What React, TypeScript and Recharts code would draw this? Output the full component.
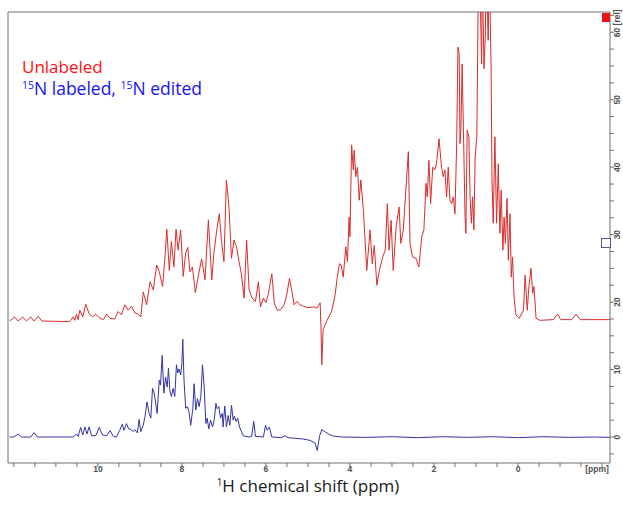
import React from 'react'
import { LineChart, Line, XAxis, YAxis, ReferenceLine } from 'recharts'

// 1H spectra, chemical shift (ppm) vs intensity (rel)
const redPpm = [
  12.1, 11.98, 11.9, 11.79, 11.7, 11.6, 11.52, 11.42, 11.34, 10.67, 10.59, 10.55, 10.51, 10.47, 10.43,
  10.36, 10.29, 10.21, 10.13, 10.05, 9.97, 9.87, 9.79, 9.71, 9.6, 9.52, 9.44, 9.36, 9.28, 9.2, 9.12,
  9.04, 8.98, 8.92, 8.84, 8.76, 8.68, 8.6, 8.54, 8.46, 8.4, 8.36, 8.3, 8.25, 8.19, 8.14, 8.09, 8.03,
  7.97, 7.91, 7.86, 7.81, 7.75, 7.68, 7.61, 7.53, 7.45, 7.37, 7.29, 7.24, 7.17, 7.11, 7.06, 7.0, 6.94,
  6.88, 6.82, 6.76, 6.7, 6.64, 6.58, 6.52, 6.46, 6.4, 6.33, 6.25, 6.18, 6.13, 6.06, 6.0, 5.94, 5.86,
  5.8, 5.73, 5.65, 5.57, 5.51, 5.44, 5.38, 5.33, 5.26, 5.19, 5.11, 5.03, 4.95, 4.87, 4.79, 4.71, 4.69,
  4.67, 4.64, 4.56, 4.44, 4.36, 4.3, 4.25, 4.21, 4.16, 4.1, 4.06, 4.02, 4.0, 3.96, 3.92, 3.9, 3.86,
  3.82, 3.78, 3.74, 3.68, 3.6, 3.52, 3.47, 3.42, 3.36, 3.3, 3.22, 3.16, 3.11, 3.07, 3.02, 2.97, 2.9,
  2.83, 2.79, 2.73, 2.67, 2.61, 2.57, 2.51, 2.43, 2.36, 2.29, 2.24, 2.19, 2.16, 2.12, 2.08, 2.03, 1.98,
  1.94, 1.88, 1.82, 1.78, 1.74, 1.7, 1.66, 1.62, 1.58, 1.54, 1.5, 1.46, 1.43, 1.4, 1.38, 1.36, 1.33,
  1.3, 1.26, 1.24, 1.21, 1.17, 1.14, 1.11, 1.08, 1.05, 1.02, 0.98, 0.94, 0.91, 0.865, 0.85, 0.81, 0.78,
  0.75, 0.71, 0.68, 0.64, 0.62, 0.59, 0.55, 0.51, 0.47, 0.43, 0.4, 0.36, 0.33, 0.3, 0.26, 0.23, 0.19,
  0.16, 0.13, 0.095, 0.05, -0.03, -0.13, -0.17, -0.22, -0.26, -0.31, -0.35, -0.38, -0.43, -0.52, -0.84,
  -0.94, -1.02, -1.28, -1.38, -1.48, -2.19,
]
const redInt = [
  17.2, 17.8, 17.2, 17.8, 17.2, 17.8, 17.2, 17.9, 17.2, 17.1, 17.8, 17.3, 18.2, 17.4, 18.8,
  17.8, 19.7, 18.3, 17.8, 18.2, 17.7, 17.4, 18.2, 17.6, 17.5, 18.6, 18.1, 19.6, 18.8, 19.4, 18.4,
  18.2, 17.8, 21.5, 19.6, 23.0, 21.8, 25.5, 24.5, 22.3, 27.0, 30.8, 24.7, 29.0, 25.2, 30.8, 27.7, 30.7,
  23.8, 27.3, 28.1, 24.5, 25.2, 21.4, 23.9, 26.4, 23.3, 32.2, 23.3, 27.2, 30.7, 33.1, 29.2, 26.0, 38.1,
  34.1, 26.5, 29.2, 28.2, 26.0, 24.0, 20.6, 29.2, 21.8, 20.6, 20.1, 23.0, 19.3, 20.6, 19.9, 21.3, 24.2,
  19.8, 18.8, 18.9, 19.6, 20.9, 23.5, 21.5, 19.6, 20.1, 19.6, 19.4, 19.2, 19.2, 19.3, 19.1, 19.9, 16.3,
  10.7, 15.9, 17.1, 18.6, 20.8, 23.7, 25.7, 25.5, 23.7, 28.2, 26.0, 32.6, 29.7, 43.3, 39.6, 42.5, 38.6,
  40.0, 35.1, 38.1, 33.6, 24.7, 30.7, 25.7, 28.4, 22.5, 24.7, 26.7, 27.7, 34.6, 27.7, 32.1, 24.7, 31.2,
  34.1, 28.7, 30.7, 36.6, 42.3, 28.7, 26.7, 26.5, 25.2, 29.7, 30.7, 37.6, 35.6, 41.0, 34.6, 40.0, 39.6,
  40.5, 44.2, 40.0, 38.6, 39.6, 35.6, 40.0, 35.1, 34.6, 35.6, 33.1, 43.5, 57.8, 56.8, 43.5, 45.5, 55.3,
  46.0, 32.6, 30.2, 45.5, 44.5, 35.6, 31.7, 35.6, 30.7, 41.5, 44.5, 70.0, 68.0, 55.3, 70.0, 54.6, 59.3,
  70.0, 58.8, 70.0, 54.4, 38.6, 31.7, 44.5, 31.7, 40.5, 30.2, 36.6, 27.7, 32.6, 28.7, 35.4, 26.2, 33.1,
  23.7, 26.7, 20.8, 18.1, 17.6, 18.8, 24.0, 18.8, 22.3, 25.0, 21.3, 22.3, 17.6, 17.3, 17.4,
  18.2, 17.4, 17.4, 18.2, 17.4, 17.4,
]

const bluePpm = [
  12.1, 12.0, 11.9, 11.82, 11.6, 11.52, 11.44, 10.59, 10.51, 10.47, 10.41, 10.36, 10.31, 10.26, 10.21,
  10.15, 10.05, 9.97, 9.89, 9.79, 9.71, 9.63, 9.56, 9.48, 9.42, 9.38, 9.32, 9.27, 9.23, 9.17, 9.12,
  9.06, 9.02, 8.98, 8.92, 8.88, 8.83, 8.78, 8.74, 8.7, 8.66, 8.63, 8.59, 8.54, 8.51, 8.47, 8.43, 8.39,
  8.35, 8.32, 8.29, 8.25, 8.21, 8.17, 8.13, 8.1, 8.07, 8.03, 8.0, 7.98, 7.95, 7.91, 7.87, 7.83, 7.79,
  7.74, 7.71, 7.67, 7.63, 7.59, 7.55, 7.51, 7.47, 7.43, 7.4, 7.36, 7.32, 7.27, 7.23, 7.19, 7.16, 7.12,
  7.08, 7.04, 7.02, 6.98, 6.94, 6.9, 6.86, 6.82, 6.78, 6.75, 6.71, 6.67, 6.63, 6.54, 6.42, 6.34, 6.29,
  6.25, 6.06, 6.01, 5.97, 5.92, 5.86, 5.63, 5.55, 5.47, 5.27, 5.11, 4.95, 4.83, 4.78, 4.76, 4.72, 4.67,
  4.6, 4.48, 4.4, 4.2, 3.6, 3.0, 2.4, 1.8, 1.2, 0.6, 0.0, -0.6, -1.2, -1.8, -2.19,
]
const blueInt = [
  0, 0, 0.44, 0, 0, 0.64, 0, 0, 0.44, 0.1, 1.43, 0.3, 1.5, 0.44, 1.5,
  0.2, 0.2, 1.43, 0.3, 0.2, 0.94, 0.1, 0, 1.0, 1.9, 1.0, 2.0, 1.2, 1.2, 0.8, 1.1,
  0.6, 2.6, 0.8, 1.75, 3.0, 5.2, 3.5, 2.8, 7.2, 6.5, 5.2, 3.5, 8.4, 7.7, 12.1, 6.5, 8.9,
  7.4, 10.2, 7.0, 6.0, 7.2, 6.0, 10.7, 9.5, 10.1, 9.2, 10.9, 14.5, 8.4, 4.25, 4.5, 3.7, 1.75,
  4.25, 7.9, 4.0, 5.7, 4.5, 6.0, 10.7, 7.4, 2.0, 2.8, 1.2, 2.5, 1.5, 2.6, 5.0, 4.2, 4.5,
  2.8, 3.5, 1.5, 4.6, 1.5, 3.2, 1.75, 4.7, 2.5, 3.1, 2.3, 2.8, 1.5, 0.2, 0, 0.1, 2.3,
  0.1, 0, 1.75, 1.0, 1.5, 0, -0.1, 0.2, -0.1, -0.2, -0.3, -0.5, -0.9, -2.0, -1.2, 0.2, 1.1,
  0.8, 0.35, 0.15, 0, -0.05, 0.05, -0.1, 0.05, -0.05, 0.05, -0.1, 0.05, -0.05, 0, -0.05,
]

const xTicks = [12, 11.5, 11, 10.5, 10, 9.5, 9, 8.5, 8, 7.5, 7, 6.5, 6, 5.5, 5, 4.5, 4, 3.5, 3, 2.5, 2, 1.5, 1, 0.5, 0, -0.5, -1, -1.5, -2]
const xLabels = [10, 8, 6, 4, 2, 0]
const yTicks = [-2.5, 0, 2.5, 5, 7.5, 10, 12.5, 15, 17.5, 20, 22.5, 25, 27.5, 30, 32.5, 35, 37.5, 40, 42.5, 45, 47.5, 50, 52.5, 55, 57.5, 60, 62.5]
const yLabels = [0, 10, 20, 30, 40, 50, 60]

const xDomain = [-2.19, 12.14]
const yDomain = [-3.85, 63]

const redData = redPpm.map((ppm, i) => ({ ppm, v: redInt[i] }))
const blueData = bluePpm.map((ppm, i) => ({ ppm, v: blueInt[i] }))

const axisColor = '#6e6e6e'
const tickFont = { fontFamily: 'Liberation Sans, Arial, sans-serif', fontSize: 8.5, fontWeight: 'bold' as const, fill: '#505050' }
const textFont = '"Open Sans", Lato, sans-serif'

function XTick({ x, y, payload }: any) {
  const v = payload.value
  let label = ''
  if (v === -2) label = '[ppm]'
  else if (xLabels.includes(v)) label = String(v)
  if (!label) return null
  const px = Number(x)
  return (
    <text x={v === -2 ? px - 5 : px} y={Number(y) - 3.5} dy="0.72em" textAnchor="middle" {...tickFont}>
      {label}
    </text>
  )
}

function YTick({ x, y, payload }: any) {
  const v = Number(payload.value)
  if (!yLabels.includes(v)) return null
  const isTop = v === 60
  const px = Number(x) + 4
  const py = Number(y) + (isTop ? 5 : 0)
  return (
    <text
      transform={`translate(${px},${py}) rotate(-90)`}
      textAnchor={isTop ? 'start' : 'middle'}
      {...tickFont}
    >
      {isTop ? '60 [rel]' : String(v)}
    </text>
  )
}

export default function App() {
  return (
    <div style={{ position: 'relative', width: 623, height: 506 }}>
      <style>{'body { margin: 0; }'}</style>
      <LineChart width={623} height={506} margin={{ top: 12, right: 0, bottom: 0, left: 8 }}>
        <XAxis
          xAxisId="b"
          dataKey="ppm"
          type="number"
          domain={xDomain}
          reversed
          ticks={xTicks}
          interval={0}
          height={43}
          tickSize={4}
          tickMargin={2}
          axisLine={{ stroke: axisColor }}
          tickLine={{ stroke: axisColor }}
          tick={<XTick />}
        />
        <YAxis
          yAxisId="r"
          orientation="right"
          type="number"
          domain={yDomain}
          allowDataOverflow
          ticks={yTicks}
          interval={0}
          width={13}
          tickSize={4}
          tickMargin={2}
          axisLine={{ stroke: axisColor }}
          tickLine={{ stroke: axisColor }}
          tick={<YTick />}
        />
        {/* frame: top and left edges */}
        <ReferenceLine xAxisId="b" yAxisId="r" y={yDomain[1]} stroke={axisColor} />
        <ReferenceLine xAxisId="b" yAxisId="r" x={xDomain[1]} stroke={axisColor} />
        <Line
          data={redData}
          xAxisId="b"
          yAxisId="r"
          dataKey="v"
          type="linear"
          stroke="#dc2b2b"
          strokeWidth={1}
          dot={false}
          isAnimationActive={false}
        />
        <Line
          data={blueData}
          xAxisId="b"
          yAxisId="r"
          dataKey="v"
          type="linear"
          stroke="#3434a2"
          strokeWidth={1}
          dot={false}
          isAnimationActive={false}
        />
      </LineChart>

      <div style={{ position: 'absolute', left: 602, top: 13, width: 8, height: 9, background: '#ee1111' }} />
      <div
        style={{
          position: 'absolute',
          left: 601,
          top: 238,
          width: 8,
          height: 8,
          border: '1px solid #555a8a',
          background: '#fff',
        }}
      />

      <div
        style={{
          position: 'absolute',
          left: 22,
          top: 58,
          fontFamily: textFont,
          fontSize: 17,
          lineHeight: '17px',
          color: '#ff1010',
          whiteSpace: 'nowrap',
        }}
      >
        Unlabeled
      </div>
      <div
        style={{
          position: 'absolute',
          left: 22,
          top: 80,
          fontFamily: textFont,
          fontSize: 17.5,
          lineHeight: '17px',
          color: '#1414f5',
          whiteSpace: 'nowrap',
        }}
      >
        <span style={{ fontSize: 10.5, position: 'relative', top: -6 }}>15</span>N labeled,{' '}
        <span style={{ fontSize: 10.5, position: 'relative', top: -6 }}>15</span>N edited
      </div>

      <div
        style={{
          position: 'absolute',
          left: 158,
          top: 482,
          width: 300,
          textAlign: 'center',
          fontFamily: textFont,
          fontSize: 17,
          lineHeight: '8px',
          color: '#1a1a1a',
          whiteSpace: 'nowrap',
        }}
      >
        <span style={{ fontSize: 10, position: 'relative', top: -6 }}>1</span>H chemical shift (ppm)
      </div>
    </div>
  )
}
